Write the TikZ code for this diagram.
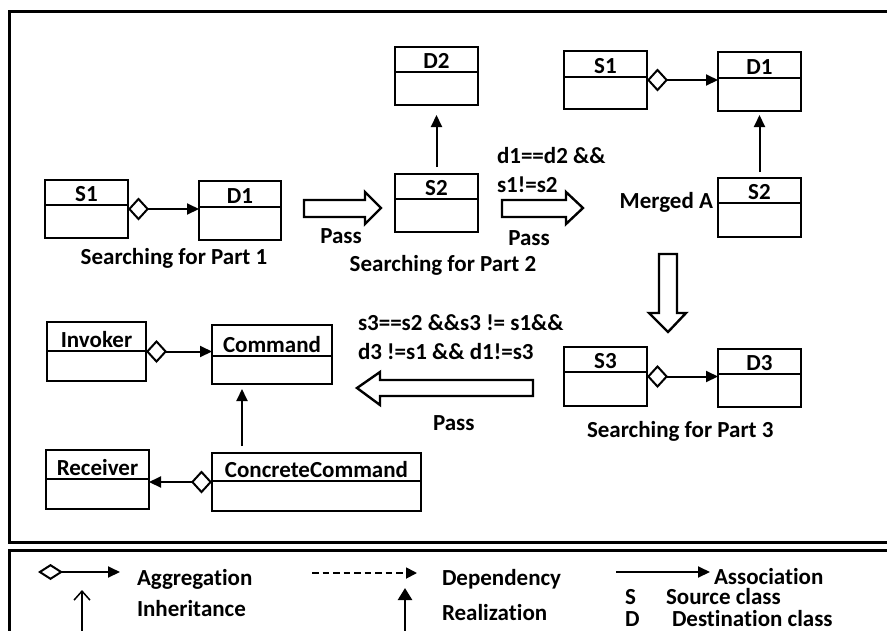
\documentclass[tikz,border=0pt]{standalone}
\usepackage{fontspec}
\setmainfont{Carlito}[Ligatures=NoCommon]
\usetikzlibrary{arrows.meta}

% class box: name, left, top, right, bottom, divider y, title
\newcommand\umlclass[7]{%
  \node[classbox, minimum width={#4-#2}, minimum height={#5-#3}] (#1) at ({(#2+#4)/2},{(#3+#5)/2}) {};
  \draw[divider] (#1.west |- 0,#6) -- (#1.east |- 0,#6);
  \node[label text, anchor=base] (#1-title) at ({(#2+#4)/2},{#6-3.5}) {#7};
}

\begin{document}
\begin{tikzpicture}[x=1pt,y=-1pt,
  every node/.style={inner sep=0pt, outer sep=0pt},
  label text/.style={font=\fontsize{23}{27}\selectfont\bfseries},
  legend text/.style={font=\fontsize{23}{26}\selectfont\bfseries},
  classbox/.style={draw, line width=2.6pt, rectangle},
  divider/.style={line width=2pt},
  frame/.style={line width=3pt},
  blockarrow/.style={draw, line width=2.4pt, line join=miter, fill=white},
  assoc/.style={line width=2pt, -{Triangle[length=12pt,width=11pt]}},
  aggr/.style={line width=2pt, {Diamond[open,length=21pt,width=23pt]}-{Triangle[length=12pt,width=11pt]}},
]
\clip (0,0) rectangle (887,630);
\fill[white] (0,0) rectangle (887,630);

% frames
\draw[frame] (900,11.5) -- (9.5,11.5) -- (9.5,542) -- (900,542);
\draw[frame] (900,550.5) -- (9.5,550.5) -- (9.5,640);

% classes
\umlclass{s1a}{45}{180}{128}{238}{205}{S1}
\umlclass{d1a}{199}{181}{281}{240}{207}{D1}
\umlclass{d2}{395}{47}{478}{105}{72}{D2}
\umlclass{s2}{395}{174}{478}{232}{199}{S2}
\umlclass{s1b}{564}{51}{647}{109}{77}{S1}
\umlclass{d1b}{718}{52}{801}{111}{78}{D1}
\umlclass{s2b}{718}{178}{801}{237}{203}{S2}
\umlclass{s3}{564}{347}{647}{406}{372}{S3}
\umlclass{d3}{718}{349}{801}{407}{374}{D3}
\umlclass{inv}{47}{322}{146}{381}{351}{Invoker}
\umlclass{cmd}{212}{325}{332}{384}{356}{Command}
\umlclass{rcv}{46}{450}{149}{509}{479}{Receiver}
\umlclass{cc}{212}{453}{421}{511}{481}{ConcreteCommand}

% relations
\draw[aggr] (s1a.east) -- (s1a.east -| d1a.west);
\draw[aggr] (s1b.east) -- (s1b.east -| d1b.west);
\draw[aggr] (s3.east) -- (s3.east -| d3.west);
\draw[aggr] (inv.east) -- (inv.east -| cmd.west);
\draw[aggr] (cc.west) -- (cc.west -| rcv.east);
\draw[assoc, shorten <=7pt, shorten >=10pt] (s2.north) -- (d2.south);
\draw[assoc, shorten <=6pt, shorten >=4pt] (s2b.north) -- (d1b.south);
\draw[assoc, shorten <=7pt, shorten >=5pt] ([xshift=30pt]cc.north west) -- ([xshift=30pt]cmd.south west);

% hollow "pass" arrows
\draw[blockarrow] (304,200) -- (365,200) -- (365,192) -- (381,208) -- (365,224) -- (365,217) -- (304,217) -- cycle;
\draw[blockarrow] (502,200) -- (566,200) -- (566,192) -- (583,208) -- (566,224) -- (566,217) -- (502,217) -- cycle;
\draw[blockarrow] (659,254) -- (659,313) -- (649,313) -- (668,332) -- (686,313) -- (677,313) -- (677,254) -- cycle;
\draw[blockarrow] (533,380) -- (380,380) -- (380,372) -- (357,388) -- (380,405) -- (380,396) -- (533,396) -- cycle;

% captions
\node[label text, anchor=base] (cap1) at (174,264) {Searching for Part 1};
\node[label text, anchor=base] (pass1) at (341,243) {Pass};
\node[label text, anchor=base] (cap2) at (443,271) {Searching for Part 2};
\node[label text, anchor=base west] (cond1a) at (497,163) {d1==d2 \&\&};
\node[label text, anchor=base west] (cond1b) at (497,192) {s1!=s2};
\node[label text, anchor=base] (pass2) at (529,245) {Pass};
\node[label text, anchor=base east] (merged) at (713,208) {Merged A};
\node[label text, anchor=base west] (cond2a) at (358,330) {s3==s2 \&\&s3 != s1\&\&};
\node[label text, anchor=base west] (cond2b) at (358,359) {d3 !=s1 \&\& d1!=s3};
\node[label text, anchor=base west] (pass3) at (433,430) {Pass};
\node[label text, anchor=base west] (cap3) at (587,437) {Searching for Part 3};

% legend
\coordinate (lgA1) at (38,572);
\coordinate (lgA2) at (120,572);
\draw[line width=2pt, {Diamond[open,length=25pt,width=16pt]}-{Triangle[length=12pt,width=11pt]}] (lgA1) -- (lgA2);
\node[legend text, anchor=base west] (lgAt) at (137,585) {Aggregation};
\coordinate (lgI1) at (82,640);
\coordinate (lgI2) at (82,590);
\draw[line width=1.5pt, -{Straight Barb[length=9pt,width=16pt]}] (lgI1) -- (lgI2);
\node[legend text, anchor=base west] (lgIt) at (137,616) {Inheritance};
\coordinate (lgD1) at (312,573);
\coordinate (lgD2) at (417,573);
\draw[line width=1.8pt, dash pattern=on 6.5pt off 4pt, -{Triangle[length=11pt,width=11pt]}] (lgD1) -- (lgD2);
\node[legend text, anchor=base west] (lgDt) at (442,585) {Dependency};
\coordinate (lgR1) at (405,640);
\coordinate (lgR2) at (405,588);
\draw[line width=2.4pt, -{Triangle[length=12pt,width=14pt]}] (lgR1) -- (lgR2);
\node[legend text, anchor=base west] (lgRt) at (442,620) {Realization};
\coordinate (lgS1) at (616,572);
\coordinate (lgS2) at (710,572);
\draw[assoc] (lgS1) -- (lgS2);
\node[legend text, anchor=base west] (lgSt) at (714,584) {Association};
\node[legend text, anchor=base west] (lgS) at (625,604) {S};
\node[legend text, anchor=base west] (lgSc) at (666,604) {Source class};
\node[legend text, anchor=base west] (lgDd) at (625,626) {D};
\node[legend text, anchor=base west] (lgDc) at (672,626) {Destination class};
\end{tikzpicture}
\end{document}
